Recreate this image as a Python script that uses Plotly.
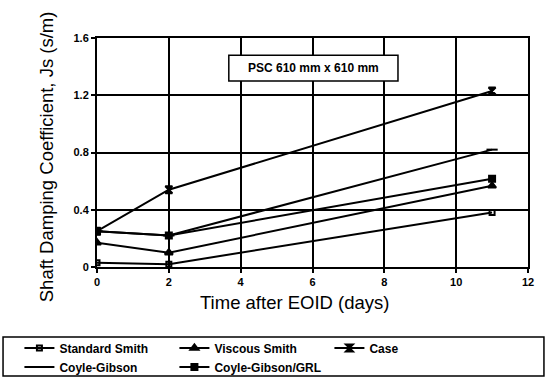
import plotly.graph_objects as go

# Days after end of initial driving (EOID)
days = [0, 2, 11]

# Shaft damping coefficient Js (s/m) by method
standard_smith = [0.03, 0.02, 0.38]
viscous_smith = [0.17, 0.10, 0.567]
case_method = [0.25, 0.54, 1.23]
coyle_gibson = [0.25, 0.22, 0.82]
coyle_gibson_grl = [0.25, 0.22, 0.616]

x_ticks = [0, 2, 4, 6, 8, 10, 12]
y_ticks = [0, 0.4, 0.8, 1.2, 1.6]
y_tick_text = ["0", "0.4", "0.8", "1.2", "1.6"]

series = [
    ("Standard Smith", standard_smith, "square-open", 5),
    ("Viscous Smith", viscous_smith, "triangle-up", 7),
    ("Case", case_method, "hourglass", 7),
    ("Coyle-Gibson", coyle_gibson, "line-ew", 8),
    ("Coyle-Gibson/GRL", coyle_gibson_grl, "square", 6),
]

fig = go.Figure()
for name, vals, sym, size in series:
    fig.add_trace(go.Scatter(
        x=days, y=vals, name=name, mode="lines+markers",
        line=dict(color="black", width=2),
        marker=dict(symbol=sym, size=size, color="black",
                    line=dict(color="black", width=2)),
    ))

fnt = "Liberation Sans"

fig.update_layout(
    width=546, height=385,
    margin=dict(l=97, r=18, t=38, b=118, autoexpand=False),
    paper_bgcolor="white", plot_bgcolor="white",
    font=dict(family=fnt, color="black"),
    showlegend=True,
    legend=dict(
        orientation="h", x=-0.18, y=-0.29, xref="paper", yref="paper",
        xanchor="left", yanchor="top",
        entrywidth=110, traceorder="normal",
        font=dict(family=fnt, size=12, color="black", weight="bold"),
        bgcolor="rgba(0,0,0,0)", borderwidth=0, itemwidth=30,
        tracegroupgap=0,
    ),
    xaxis=dict(
        range=[0, 12], tickvals=x_ticks, ticks="outside", ticklen=4,
        tickwidth=2, tickcolor="black",
        showgrid=True, gridcolor="black", gridwidth=2,
        showline=True, linecolor="black", linewidth=2, mirror=True,
        zeroline=False,
        tickfont=dict(family=fnt, size=11, weight="bold"),
    ),
    yaxis=dict(
        range=[0, 1.6], tickvals=y_ticks, ticktext=y_tick_text,
        ticks="outside", ticklen=4, tickwidth=2, tickcolor="black",
        showgrid=True, gridcolor="black", gridwidth=2,
        showline=True, linecolor="black", linewidth=2, mirror=True,
        zeroline=False,
        tickfont=dict(family=fnt, size=11, weight="bold"),
    ),
    shapes=[
        # label box inside the plot
        dict(type="rect", xref="x", yref="y", x0=3.67, x1=8.38,
             y0=1.30, y1=1.48, line=dict(color="black", width=1.5),
             fillcolor="white", layer="above"),
        # frame around the legend
        dict(type="rect", xref="paper", yref="paper", x0=-0.218, x1=1.037,
             y0=-0.476, y1=-0.306, line=dict(color="black", width=1.5)),
    ],
    annotations=[
        dict(x=6.03, y=1.39, xref="x", yref="y", showarrow=False,
             text="PSC 610 mm x 610 mm",
             font=dict(family=fnt, size=12, weight="bold", color="black")),
        # axis titles
        dict(x=0.46, y=-0.157, xref="paper", yref="paper", showarrow=False,
             xanchor="center", yanchor="middle",
             text="Time after EOID (days)",
             font=dict(family=fnt, size=18.5, color="black")),
        dict(x=-0.118, y=0.48, xref="paper", yref="paper", showarrow=False,
             xanchor="center", yanchor="middle",
             text="Shaft Damping Coefficient, Js (s/m)", textangle=-90,
             font=dict(family=fnt, size=18.5, color="black")),
    ],
)

fig.write_html("out.html")
